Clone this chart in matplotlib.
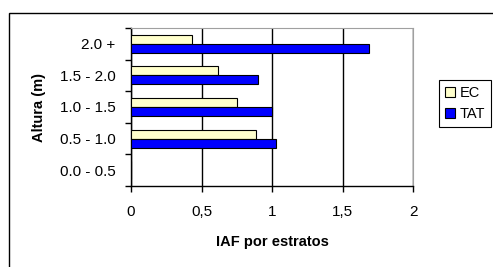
import matplotlib.pyplot as plt
import numpy as np
from matplotlib.patches import Rectangle

plt.rcParams["font.family"] = ["Liberation Sans", "DejaVu Sans"]

categories = ["0.0 - 0.5", "0.5 - 1.0", "1.0 - 1.5", "1.5 - 2.0", "2.0 +"]
ec = [0.0, 0.89, 0.75, 0.62, 0.43]
tat = [0.0, 1.03, 1.0, 0.9, 1.69]
x_ticks = [0, 0.5, 1, 1.5, 2]
x_tick_labels = ["0", "0,5", "1", "1,5", "2"]

fig = plt.figure(figsize=(4.93, 2.67), dpi=100)
ax = fig.add_axes([131 / 493, 81 / 267, 282 / 493, 158 / 267])

y = np.arange(len(categories))
h = 0.285
ax.barh(y + h / 2, ec, height=h, color="#FFFFCC", edgecolor="black",
        linewidth=0.8, label="EC", zorder=3)
ax.barh(y - h / 2, tat, height=h, color="#0000FF", edgecolor="black",
        linewidth=0.8, label="TAT", zorder=3)

ax.set_xlim(0, 2)
ax.set_ylim(-0.5, len(categories) - 0.5)
ax.set_xticks(x_ticks)
ax.set_xticklabels(x_tick_labels, fontsize=11)
ax.set_yticks(y)
ax.set_yticklabels(categories, fontsize=11)
ax.set_yticks(np.arange(len(categories) + 1) - 0.5, minor=True)
ax.tick_params(axis="y", which="major", length=0, pad=11)
ax.tick_params(axis="y", which="minor", length=4, width=1, direction="out")
ax.tick_params(axis="x", length=4, width=1, pad=10, colors="black")
ax.xaxis.grid(True, color="black", linewidth=1, zorder=1)

for s in ["top", "right"]:
    ax.spines[s].set_color("#A0A0A0")
for s in ["left", "bottom"]:
    ax.spines[s].set_color("black")
    ax.spines[s].set_linewidth(1)

ax.set_xlabel("IAF por estratos", fontsize=10.5, fontweight="bold")
ax.xaxis.set_label_coords(0.5, -0.31)
ax.set_ylabel("Altura (m)", fontsize=10.5, fontweight="bold")
ax.yaxis.set_label_coords(-0.30, 0.5)

leg = fig.legend(loc="upper left", bbox_to_anchor=(439 / 493, 187 / 267),
                 fontsize=10.5, fancybox=False, edgecolor="black",
                 framealpha=1, borderaxespad=0, handlelength=0.7,
                 handleheight=0.7, handletextpad=0.3, borderpad=0.4,
                 labelspacing=0.5)
leg.get_frame().set_linewidth(0.8)

fig.patches.append(Rectangle((9 / 493, -0.1), 1.2, (254 / 267) + 0.1,
                             transform=fig.transFigure, fill=False,
                             edgecolor="black", linewidth=1))

fig.savefig("out.png", dpi=100)
